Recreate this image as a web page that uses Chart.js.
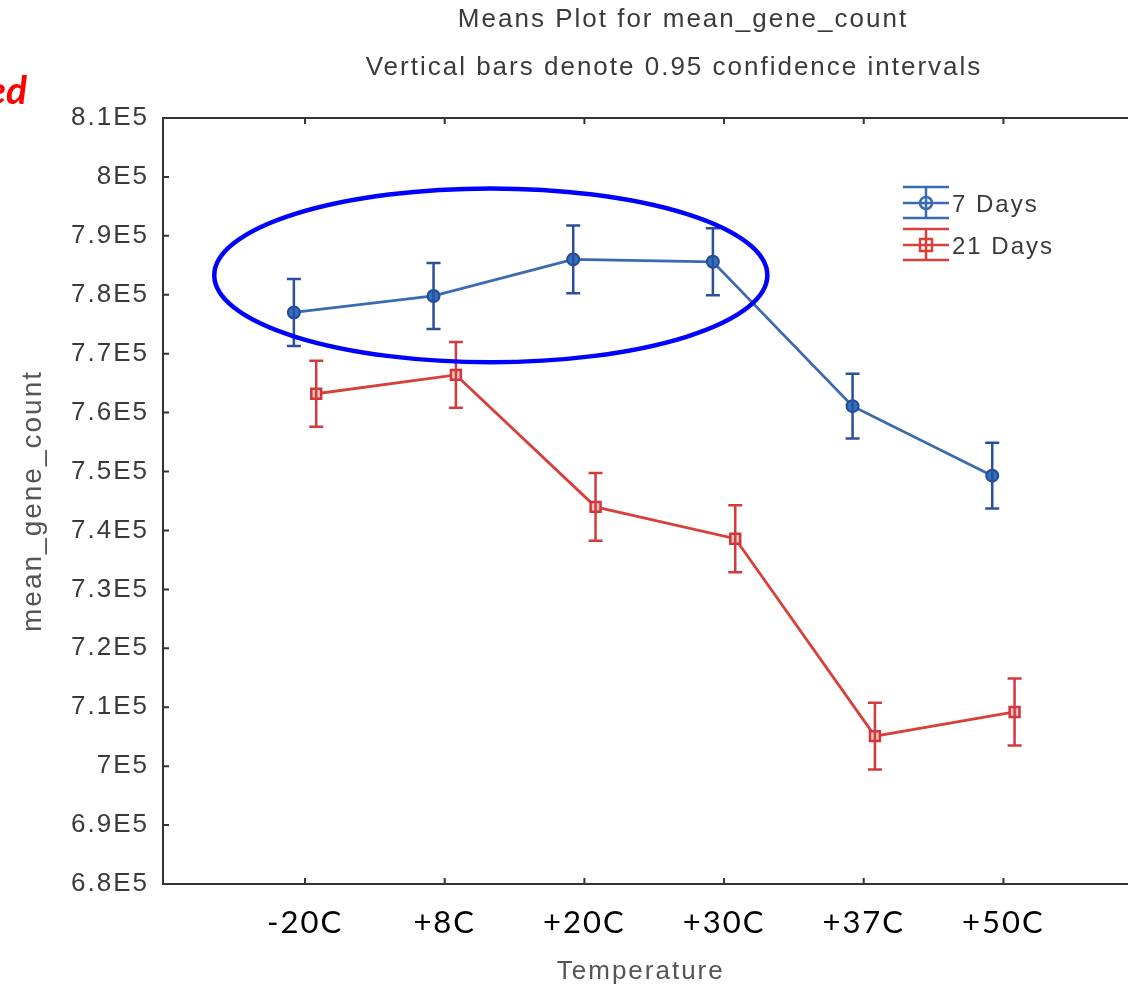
<!DOCTYPE html>
<html>
<head>
<meta charset="utf-8">
<title>Means Plot for mean_gene_count</title>
<script src="https://cdn.jsdelivr.net/npm/chart.js@4.4.1/dist/chart.umd.min.js"></script>
<style>
  html, body { margin: 0; padding: 0; background: #fff; overflow: hidden; }
  #wrap { width: 1128px; height: 991px; }
</style>
</head>
<body>
<div id="wrap"><canvas id="meansPlot" width="1128" height="991"></canvas></div>
<script>
// temperature groups on the x axis
const categories = ["-20C", "+8C", "+20C", "+30C", "+37C", "+50C"];

// group means and half-width of the 0.95 confidence interval
const days7Mean = [777000, 779800, 786000, 785600, 761100, 749300];
const days7Ci = [5680, 5590, 5760, 5680, 5510, 5590];
const days21Mean = [763200, 766400, 744000, 738600, 705100, 709200];
const days21Ci = [5590, 5590, 5760, 5680, 5680, 5680];

const yMin = 680000;
const yMax = 810000;
const yStep = 10000;

// the two series sit a little apart around each group
const shift7 = -0.08;
const shift21 = 0.08;

// ring drawn round the first four 7 day means (data units)
const ring = { cx: 2.33, cy: 783300, rx: 1.98, ry: 14750 };

const blueLine = "#3a6bb2";
const blueBar = "#2c4f9c";
const redLine = "#d8403c";
const redBar = "#d33b3b";
const greyText = "#3a3a3a";

function punkte(means, shift) {
    return means.map((v, i) => ({ x: i + 1 + shift, y: v }));
}

function lettres(chart) {
    chart.ctx.letterSpacing = "2px";
}

const dessinPlugin = {
    id: "dessin",
    beforeLayout: lettres,
    beforeDraw: lettres,
    afterDatasetsDraw(chart) {
        const ctx = chart.ctx;
        const x = chart.scales.x;
        const y = chart.scales.y;

        // confidence interval whiskers
        const series = [
            { means: days7Mean, ci: days7Ci, shift: shift7, color: blueBar },
            { means: days21Mean, ci: days21Ci, shift: shift21, color: redBar }
        ];
        ctx.save();
        ctx.lineWidth = 2.5;
        series.forEach((s) => {
            ctx.strokeStyle = s.color;
            s.means.forEach((m, i) => {
                const px = x.getPixelForValue(i + 1 + s.shift);
                const top = y.getPixelForValue(m + s.ci[i]);
                const bot = y.getPixelForValue(m - s.ci[i]);
                ctx.beginPath();
                ctx.moveTo(px, top);
                ctx.lineTo(px, bot);
                ctx.moveTo(px - 7, top);
                ctx.lineTo(px + 7, top);
                ctx.moveTo(px - 7, bot);
                ctx.lineTo(px + 7, bot);
                ctx.stroke();
            });
        });
        ctx.restore();
    },
    afterDraw(chart) {
        const ctx = chart.ctx;
        const a = chart.chartArea;
        const x = chart.scales.x;
        const y = chart.scales.y;

        ctx.save();
        // top and bottom frame lines run on past the right edge, plus inward tick marks
        ctx.strokeStyle = "#333";
        ctx.lineWidth = 2;
        ctx.beginPath();
        ctx.moveTo(a.left - 1, a.top);
        ctx.lineTo(chart.width, a.top);
        ctx.moveTo(a.left - 1, a.bottom);
        ctx.lineTo(chart.width, a.bottom);
        y.ticks.forEach((t) => {
            const py = y.getPixelForValue(t.value);
            ctx.moveTo(a.left, py);
            ctx.lineTo(a.left + 6, py);
        });
        x.ticks.forEach((t) => {
            const px = x.getPixelForValue(t.value);
            ctx.moveTo(px, a.bottom);
            ctx.lineTo(px, a.bottom - 6);
            ctx.moveTo(px, a.top);
            ctx.lineTo(px, a.top + 6);
        });
        ctx.stroke();

        // blue ring
        ctx.strokeStyle = "#0000ff";
        ctx.lineWidth = 4.5;
        const cx = x.getPixelForValue(ring.cx);
        const cy = y.getPixelForValue(ring.cy);
        const rx = x.getPixelForValue(ring.cx + ring.rx) - cx;
        const ry = cy - y.getPixelForValue(ring.cy + ring.ry);
        ctx.beginPath();
        ctx.ellipse(cx, cy, rx, ry, 0, 0, Math.PI * 2);
        ctx.stroke();

        // titles
        ctx.fillStyle = greyText;
        ctx.textAlign = "center";
        ctx.textBaseline = "middle";
        ctx.font = "26px 'Liberation Sans', Arial, sans-serif";
        ctx.fillText("Means Plot for mean_gene_count", 683, 20);
        ctx.fillText("Vertical bars denote 0.95 confidence intervals", 674, 68);

        // legend
        const legende = [
            { label: "7 Days", color: blueLine, mark: "circle", cy: 203 },
            { label: "21 Days", color: redLine, mark: "rect", cy: 245 }
        ];
        legende.forEach((l) => {
            const gx = 926;
            ctx.strokeStyle = l.color;
            ctx.lineWidth = 2.5;
            ctx.beginPath();
            ctx.moveTo(gx - 23, l.cy - 16);
            ctx.lineTo(gx + 23, l.cy - 16);
            ctx.moveTo(gx - 23, l.cy + 15);
            ctx.lineTo(gx + 23, l.cy + 15);
            ctx.moveTo(gx - 23, l.cy);
            ctx.lineTo(gx + 23, l.cy);
            ctx.moveTo(gx, l.cy - 16);
            ctx.lineTo(gx, l.cy + 15);
            ctx.stroke();
            ctx.beginPath();
            if (l.mark === "circle") {
                ctx.arc(gx, l.cy, 6, 0, Math.PI * 2);
            } else {
                ctx.rect(gx - 6, l.cy - 6, 12, 12);
            }
            ctx.stroke();
            ctx.fillStyle = greyText;
            ctx.textAlign = "left";
            ctx.font = "24px 'Liberation Sans', Arial, sans-serif";
            ctx.fillText(l.label, gx + 26, l.cy + 2);
        });

        // red bold fragment at the top left
        ctx.letterSpacing = "0px";
        ctx.fillStyle = "#ff0000";
        ctx.textAlign = "right";
        ctx.textBaseline = "alphabetic";
        ctx.font = "italic bold 39px Lato, 'Open Sans', sans-serif";
        ctx.fillText("ed", 27, 104);
        ctx.restore();
    }
};

const canvas = document.getElementById("meansPlot");
new Chart(canvas, {
    type: "line",
    data: {
        datasets: [
            {
                label: "7 Days",
                data: punkte(days7Mean, shift7),
                borderColor: blueLine,
                borderWidth: 2.8,
                pointStyle: "circle",
                pointRadius: 6,
                pointBorderWidth: 2,
                pointBackgroundColor: "#2f73c0",
                pointBorderColor: "#234a90",
                tension: 0
            },
            {
                label: "21 Days",
                data: punkte(days21Mean, shift21),
                borderColor: redLine,
                borderWidth: 2.8,
                pointStyle: "rect",
                pointRadius: 7,
                pointBorderWidth: 2.5,
                pointBackgroundColor: "#f3c4c0",
                pointBorderColor: "#d0363a",
                tension: 0
            }
        ]
    },
    options: {
        responsive: false,
        animation: false,
        devicePixelRatio: 1,
        layout: { padding: { left: 0, top: 118, right: 0, bottom: 0 } },
        plugins: {
            legend: { display: false },
            title: { display: false },
            tooltip: { enabled: false }
        },
        scales: {
            x: {
                type: "linear",
                min: -0.017,
                max: 6.824,
                grid: { display: false },
                border: { display: false },
                afterBuildTicks(scale) {
                    scale.ticks = categories.map((c, i) => ({ value: i + 1 }));
                },
                afterFit(scale) {
                    scale.height = 107;
                },
                ticks: {
                    padding: 12,
                    color: "#000",
                    font: { family: "Lato, 'Open Sans', sans-serif", size: 31 },
                    callback: (v) => categories[v - 1]
                },
                title: {
                    display: true,
                    text: "Temperature",
                    color: "#555",
                    font: { family: "'Liberation Sans', Arial, sans-serif", size: 26 },
                    padding: { top: 0, bottom: 4 }
                }
            },
            y: {
                min: yMin,
                max: yMax,
                grid: { display: false },
                border: { display: true, color: "#333", width: 2 },
                afterFit(scale) {
                    scale.width = 163;
                },
                ticks: {
                    stepSize: yStep,
                    padding: 6,
                    color: greyText,
                    font: { family: "'Liberation Sans', Arial, sans-serif", size: 26 },
                    callback: (v) => (Math.round(v / 1000) / 100) + "E5"
                },
                title: {
                    display: true,
                    text: "mean_gene_count",
                    color: "#555",
                    font: { family: "'Liberation Sans', Arial, sans-serif", size: 28 },
                    padding: { top: 16, bottom: 0 }
                }
            }
        }
    },
    plugins: [dessinPlugin]
});
</script>
</body>
</html>
